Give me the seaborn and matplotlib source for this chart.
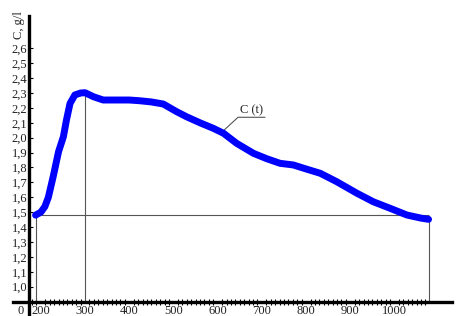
import matplotlib
matplotlib.use("Agg")
import matplotlib.pyplot as plt
from matplotlib.ticker import FixedLocator, FuncFormatter
import numpy as np
import pandas as pd
import seaborn as sns

sns.set_style("white")
plt.rcParams['font.family'] = ['Liberation Serif', 'DejaVu Serif']

# concentration curve
t_min = [188, 200, 209, 217, 228, 240, 251, 258, 266, 277, 290, 300, 319, 341,
         370, 400, 424, 450, 477, 507, 530, 560, 590, 613, 643, 681, 710, 741,
         771, 800, 832, 869, 915, 952, 990, 1028, 1060, 1077]
conc = [1.48, 1.50, 1.537, 1.60, 1.74, 1.906, 2.007, 2.12, 2.23, 2.287, 2.30,
        2.302, 2.275, 2.253, 2.253, 2.253, 2.248, 2.24, 2.226, 2.175, 2.14, 2.10,
        2.063, 2.03, 1.962, 1.895, 1.86, 1.828, 1.817, 1.79, 1.761, 1.705, 1.627,
        1.57, 1.526, 1.481, 1.46, 1.452]

x_ticks = [200, 300, 400, 500, 600, 700, 800, 900, 1000]
y_ticks = [1.0, 1.1, 1.2, 1.3, 1.4, 1.5, 1.6, 1.7, 1.8, 1.9, 2.0, 2.1, 2.2, 2.3, 2.4, 2.5, 2.6]

# guide lines (t, top C)
guides_t = [188, 300, 1077]
guides_top = [1.48, 2.302, 1.452]
base_level = 1.483

x_origin, y_origin = 173, 0.9
fs = 9

df = pd.DataFrame({"t": t_min, "C": conc})

fig = plt.figure(figsize=(4.69, 3.16), dpi=100)
ax = fig.add_axes([13 / 469, 0.0, 439 / 469, 300 / 316])

ax.vlines(guides_t, y_origin, guides_top, color="#555555", lw=0.8, zorder=1)
ax.hlines(base_level, guides_t[0], guides_t[-1], color="#555555", lw=0.8, zorder=1)

sns.lineplot(data=df, x="t", y="C", ax=ax, color="#0000ff", lw=5,
             solid_capstyle="round", solid_joinstyle="round", zorder=3)

ax.set_xlim(137, 1130)
ax.set_ylim(0.803, 2.817)

for s in ["top", "right"]:
    ax.spines[s].set_visible(False)
ax.spines["left"].set_position(("data", x_origin))
ax.spines["bottom"].set_position(("data", y_origin))
for s in ["left", "bottom"]:
    ax.spines[s].set_linewidth(2.4)
    ax.spines[s].set_color("black")

ax.xaxis.set_major_locator(FixedLocator(x_ticks))
ax.xaxis.set_minor_locator(FixedLocator(list(range(180, 1080, 10))))
ax.yaxis.set_major_locator(FixedLocator(y_ticks))
ax.yaxis.set_major_formatter(FuncFormatter(lambda v, p: f"{v:.1f}".replace(".", ",")))
ax.tick_params(axis="x", which="major", direction="inout", length=6, width=1.2,
               labelsize=fs, pad=-0.5, colors="black")
ax.tick_params(axis="x", which="minor", direction="inout", length=4.5, width=0.8,
               colors="black", bottom=True)
ax.tick_params(axis="y", which="major", direction="in", length=3, width=0.8,
               labelsize=fs, pad=1, colors="black", left=True)
ax.tick_params(labelcolor="#222222")
ax.set_xlabel("")
ax.set_ylabel("")

ax.annotate("0", (x_origin, y_origin), xytext=(-6, -7), textcoords="offset points",
            ha="center", va="center", fontsize=fs, color="#222222")
ax.annotate("t, min", (1133, y_origin), xytext=(0, -7), textcoords="offset points",
            ha="right", va="center", fontsize=fs, color="#222222")
ax.text(151, 2.756, "C, g/l", rotation=90, ha="center", va="center",
        fontsize=fs, color="#222222")

# label with leader line
ax.plot([609, 646, 707], [2.036, 2.137, 2.137], color="#555555", lw=0.8, zorder=2)
ax.text(676, 2.145, "C (t)", ha="center", va="bottom", fontsize=fs, color="#222222")

fig.savefig("out.png", dpi=100)
